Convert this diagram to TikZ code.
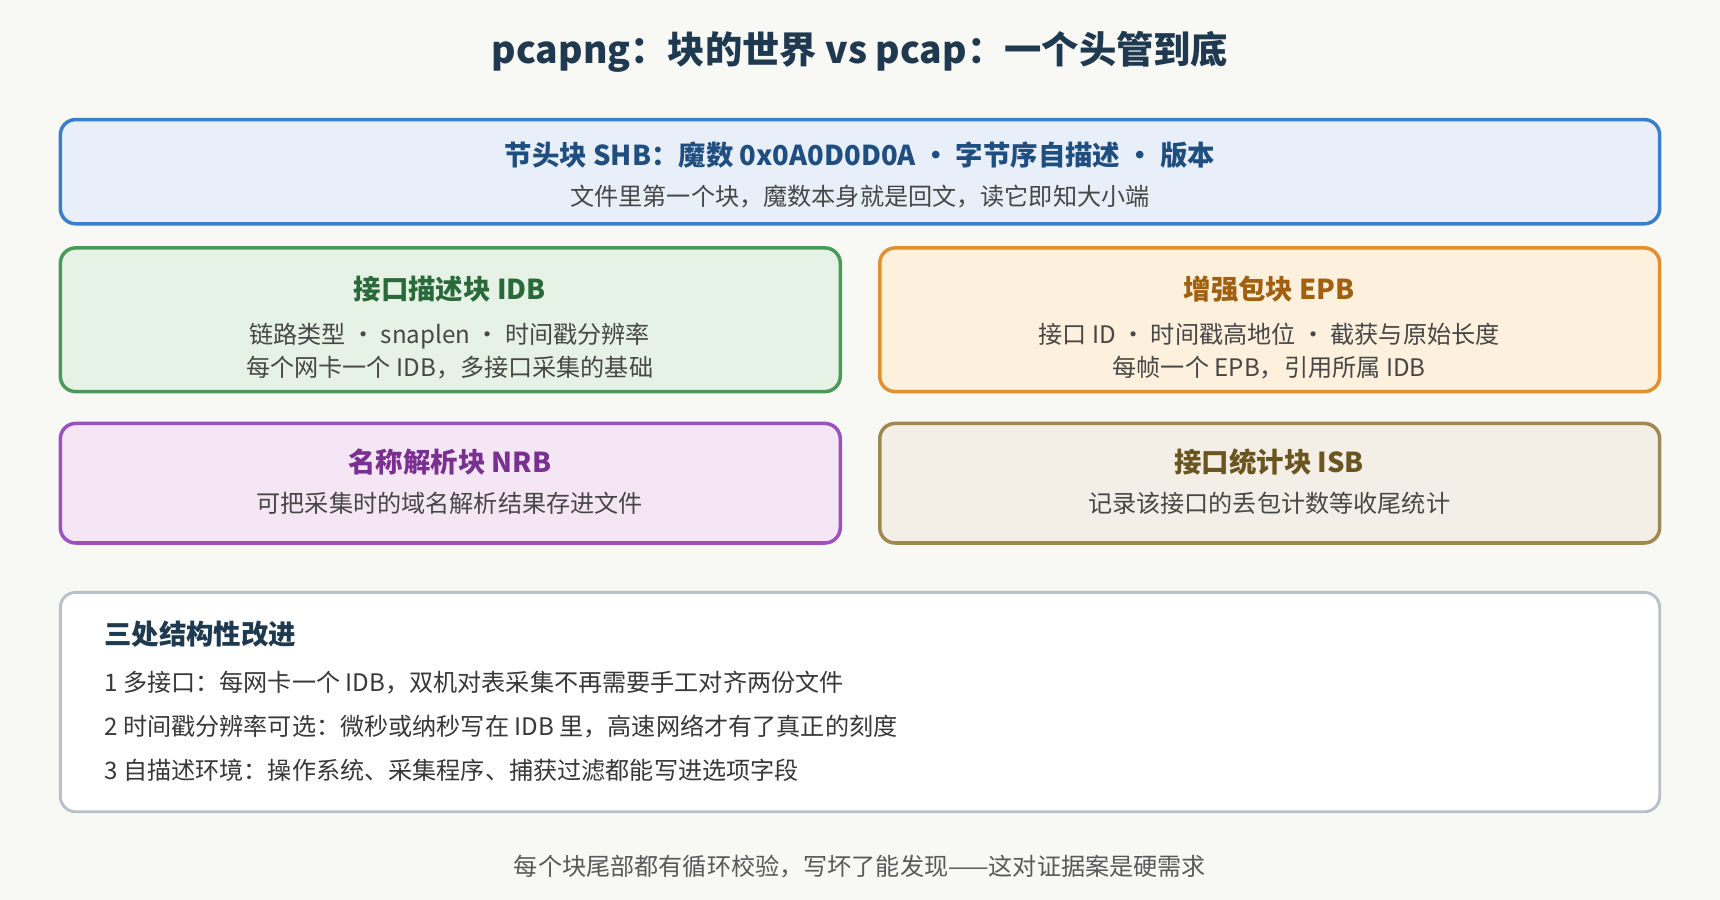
\documentclass[tikz,border=0pt]{standalone}
\usepackage{fontspec}
\setmainfont{Noto Sans CJK SC}
\begin{document}
\begin{tikzpicture}[x=0.5pt,y=-0.5pt,
 box/.style={rounded corners=7pt,line width=1.6pt},
 ttl/.style={font=\fontsize{12.5}{15}\selectfont\bfseries,anchor=center},
 body/.style={font=\fontsize{11}{15}\selectfont,text=black!72,anchor=center,align=center},
 note/.style={font=\fontsize{11}{15}\selectfont,text=black!78,anchor=west}]
\definecolor{bg}{HTML}{F8F8F4}
\definecolor{bB}{HTML}{3A7FC8}\definecolor{fB}{HTML}{E8EFF8}\definecolor{tB}{HTML}{1F4E80}
\definecolor{bG}{HTML}{4A9A5A}\definecolor{fG}{HTML}{E6F2E6}\definecolor{tG}{HTML}{2A6A3A}
\definecolor{bO}{HTML}{E0902E}\definecolor{fO}{HTML}{FDF0DC}\definecolor{tO}{HTML}{A06010}
\definecolor{bP}{HTML}{9A52C0}\definecolor{fP}{HTML}{F4E6F4}\definecolor{tP}{HTML}{7A3090}
\definecolor{bY}{HTML}{A08850}\definecolor{fY}{HTML}{F3EFE6}\definecolor{tY}{HTML}{6A5420}
\definecolor{bN}{HTML}{B8C0CC}\definecolor{tT}{HTML}{1F3A50}
\fill[bg] (0,0) rectangle (1568,820);
\useasboundingbox (0,0) rectangle (1568,820);
\node[font=\fontsize{17}{20}\selectfont\bfseries,text=tT] (title) at (784,47) {pcapng：块的世界 vs pcap：一个头管到底};
\draw[box,draw=bB,fill=fB] (55,109) rectangle (1513,204);
\node[ttl,text=tB] (shb) at (784,141) {节头块 SHB：魔数 0x0A0D0D0A • 字节序自描述 • 版本};
\node[body] (shb2) at (784,179) {文件里第一个块，魔数本身就是回文，读它即知大小端};
\draw[box,draw=bG,fill=fG] (55,226) rectangle (766,357);
\node[ttl,text=tG] (idb) at (410,264) {接口描述块 IDB};
\node[body] (idb2) at (410,320) {链路类型 · snaplen · 时间戳分辨率\\每个网卡一个 IDB，多接口采集的基础};
\draw[box,draw=bO,fill=fO] (802,226) rectangle (1513,357);
\node[ttl,text=tO] (epb) at (1157,264) {增强包块 EPB};
\node[body] (epb2) at (1157,320) {接口 ID · 时间戳高地位 · 截获与原始长度\\每帧一个 EPB，引用所属 IDB};
\draw[box,draw=bP,fill=fP] (55,386) rectangle (766,495);
\node[ttl,text=tP] (nrb) at (410,421) {名称解析块 NRB};
\node[body] (nrb2) at (410,459) {可把采集时的域名解析结果存进文件};
\draw[box,draw=bY,fill=fY] (802,386) rectangle (1513,495);
\node[ttl,text=tY] (isb) at (1157,421) {接口统计块 ISB};
\node[body] (isb2) at (1157,459) {记录该接口的丢包计数等收尾统计};
\draw[box,draw=bN,fill=white,line width=1.3pt] (55,540) rectangle (1513,740);
\node[ttl,anchor=west,text=tT] (nh) at (88,578) {三处结构性改进};
\node[note] (n1) at (88,622) {1 多接口：每网卡一个 IDB，双机对表采集不再需要手工对齐两份文件};
\node[note] (n2) at (88,662) {2 时间戳分辨率可选：微秒或纳秒写在 IDB 里，高速网络才有了真正的刻度};
\node[note] (n3) at (88,702) {3 自描述环境：操作系统、采集程序、捕获过滤都能写进选项字段};
\node[body,text=black!65] (foot) at (784,790) {每个块尾部都有循环校验，写坏了能发现——这对证据案是硬需求};
\end{tikzpicture}
\end{document}
